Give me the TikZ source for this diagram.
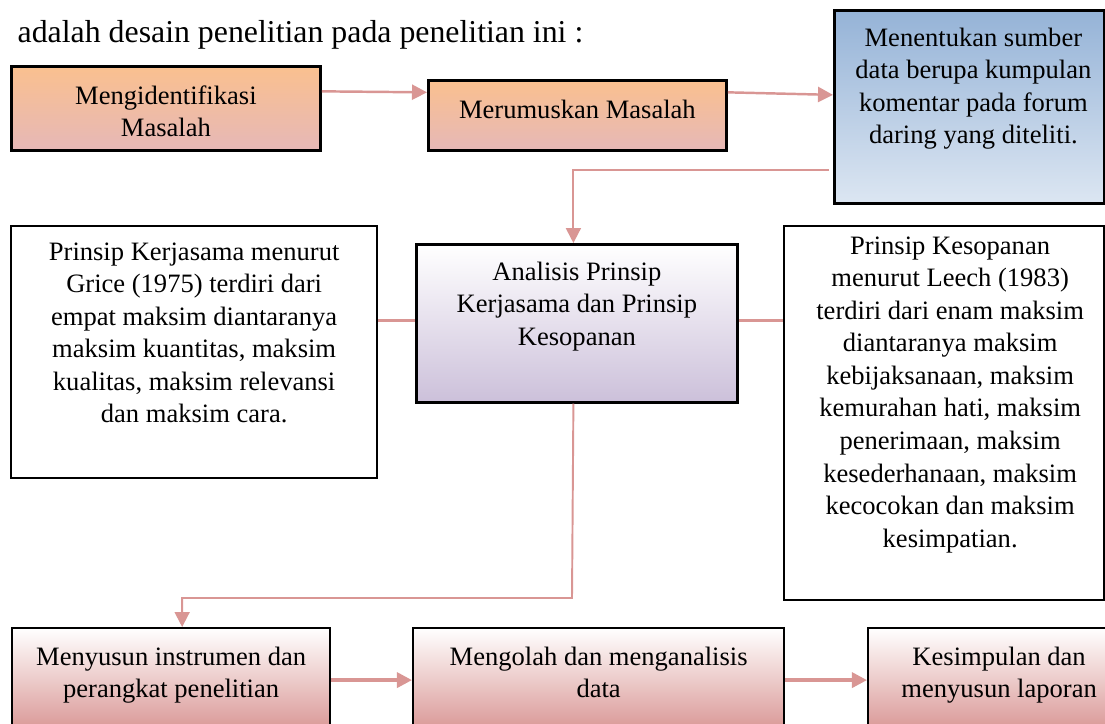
\documentclass[tikz,border=0pt]{standalone}
\usepackage{fontspec}
\setmainfont{Liberation Serif}
\usetikzlibrary{positioning}
\usetikzlibrary{arrows.meta}

\definecolor{arrowpink}{RGB}{217,150,148}
\definecolor{peachtop}{RGB}{250,192,143}
\definecolor{peachbot}{RGB}{230,184,183}
\definecolor{bluetop}{RGB}{149,179,215}
\definecolor{bluebot}{RGB}{220,230,242}
\definecolor{lilacbot}{RGB}{204,192,218}
\definecolor{rosebot}{RGB}{217,150,148}

\tikzset{
  box/.style={draw=black, line width=0.6pt, anchor=north west, inner sep=0pt},
  peachbox/.style={box, line width=0.75pt, top color=peachtop, bottom color=peachbot},
  bluebox/.style={box, line width=0.75pt, top color=bluetop, bottom color=bluebot},
  lilacbox/.style={box, line width=0.75pt, top color=white, bottom color=lilacbot},
  rosebox/.style={box, top color=white, bottom color=rosebot},
  txt/.style={align=center, inner sep=0pt, font=\fontsize{7.55}{9.25}\selectfont},
  flow/.style={draw=arrowpink, line width=0.7pt, -{Triangle[length=0.15cm,width=0.15cm]}},
  link/.style={draw=arrowpink, line width=0.65pt},
}

\begin{document}
\begin{tikzpicture}[x=0.01cm, y=-0.01cm]

\useasboundingbox (0,0) rectangle (1105,723);
\clip (0,0) rectangle (1105,723);

%================ HEADER ==================
\node[anchor=base west, inner sep=0pt, font=\fontsize{9.05}{11}\selectfont] (judul) at (17,42) {adalah desain penelitian pada penelitian ini :};

%================ TOP ROW ==================
\node[peachbox, minimum width=3.09cm, minimum height=0.84cm] (ident) at (10,65) {};
\node[txt, below=0.20cm of ident.north] {Mengidentifikasi\\Masalah};

\node[peachbox, minimum width=2.98cm, minimum height=0.70cm] (rumus) at (427,79) {};
\node[txt, below=0.20cm of rumus.north] {Merumuskan Masalah};

\node[bluebox, minimum width=2.70cm, minimum height=1.93cm] (sumber) at (833,9) {};
\node[txt, below=0.18cm of sumber.north, xshift=0.04cm] {Menentukan sumber\\data berupa kumpulan\\komentar pada forum\\daring yang diteliti.};

%================ MIDDLE ROW ==================
\node[box, minimum width=3.66cm, minimum height=2.52cm] (grice) at (10,225) {};
\node[txt, below=0.17cm of grice.north] {Prinsip Kerjasama menurut\\Grice (1975) terdiri dari\\empat maksim diantaranya\\maksim kuantitas, maksim\\kualitas, maksim relevansi\\dan maksim cara.};

\node[lilacbox, minimum width=3.21cm, minimum height=1.58cm] (analisis) at (415,243) {};
\node[txt, below=0.18cm of analisis.north] {Analisis Prinsip\\Kerjasama dan Prinsip\\Kesopanan};

\node[box, minimum width=3.20cm, minimum height=3.74cm] (leech) at (783,225) {};
\node[txt, below=0.11cm of leech.north, xshift=0.06cm] {Prinsip Kesopanan\\menurut Leech (1983)\\terdiri dari enam maksim\\diantaranya maksim\\kebijaksanaan, maksim\\kemurahan hati, maksim\\penerimaan, maksim\\kesederhanaan, maksim\\kecocokan dan maksim\\kesimpatian.};

%================ BOTTOM ROW ==================
\node[rosebox, minimum width=3.18cm, minimum height=1.04cm] (instrumen) at (11,627) {};
\node[txt, below=0.19cm of instrumen.north] {Menyusun instrumen dan\\perangkat penelitian};

\node[rosebox, minimum width=3.71cm, minimum height=1.04cm] (olah) at (412,627) {};
\node[txt, below=0.19cm of olah.north] {Mengolah dan menganalisis\\data};

\node[rosebox, minimum width=2.50cm, minimum height=1.04cm] (simpul) at (867,627) {};
\node[txt, below=0.19cm of simpul.north, xshift=0.06cm] {Kesimpulan dan\\menyusun laporan};

%================ ARROWS ==================
\draw[flow] ([yshift=0.17cm]ident.east) -- ([yshift=0.23cm]rumus.west);
\draw[flow] ([yshift=0.23cm]rumus.east) -- ([yshift=0.12cm]sumber.west);
\draw[flow, line width=0.55pt] ([shift={(-0.04cm,-0.63cm)}]sumber.west) -| ([xshift=-0.035cm]analisis.north);

\draw[link] ([yshift=0.03cm]analisis.west) -- ([yshift=0.03cm]analisis.west -| grice.east);
\draw[link] ([yshift=0.03cm]analisis.east) -- ([yshift=0.03cm]analisis.east -| leech.west);

\coordinate (belok) at (572,598);
\draw[flow, line width=0.55pt] ([xshift=-0.035cm]analisis.south) -- (belok) -| ([xshift=0.11cm]instrumen.north);

\draw[flow, line width=0.95pt] (instrumen.east) -- (olah.west);
\draw[flow, line width=0.95pt] (olah.east) -- (simpul.west);

\end{tikzpicture}
\end{document}
